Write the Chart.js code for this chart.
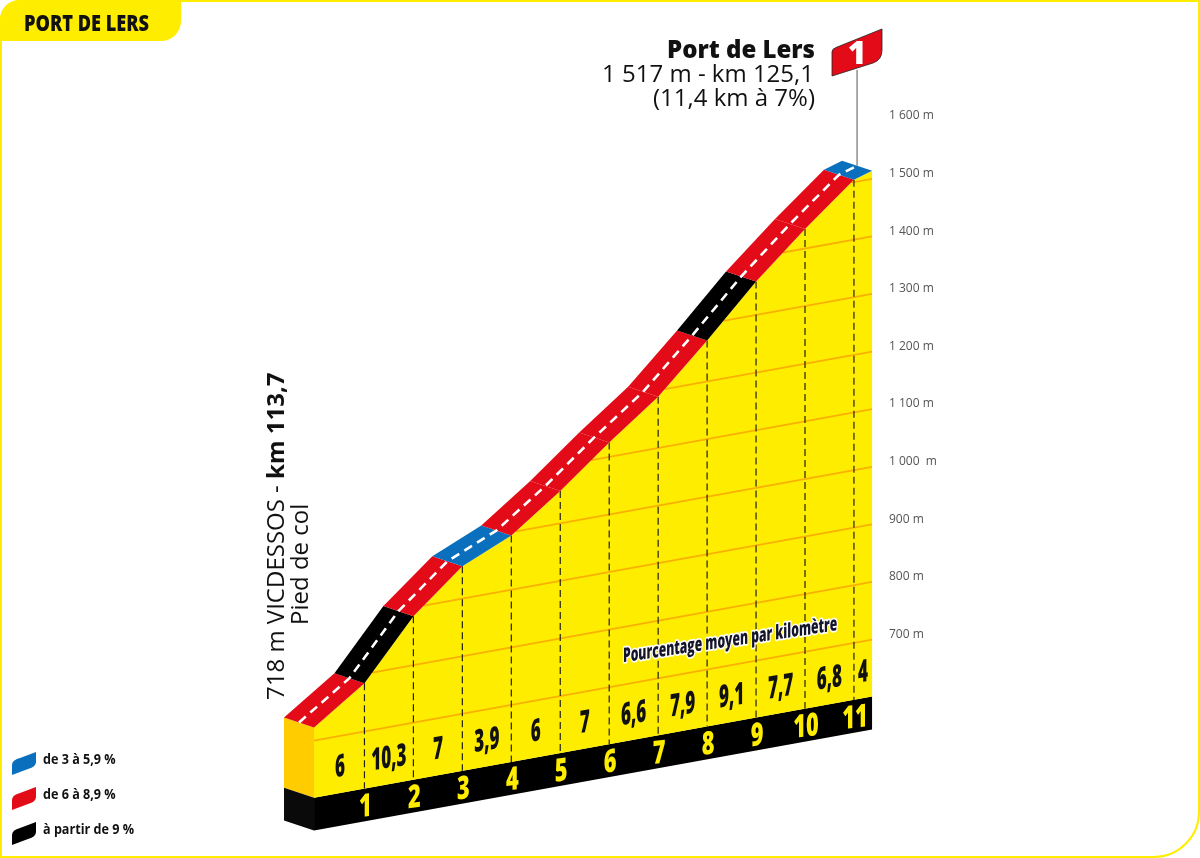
<!DOCTYPE html>
<html lang="fr"><head><meta charset="utf-8">
<script src="https://cdn.jsdelivr.net/npm/chart.js@4"></script>
<style>
html,body{margin:0;padding:0;background:#fff;overflow:hidden}
#wrap{position:relative;width:1200px;height:858px;overflow:hidden;font-family:"Open Sans",sans-serif;color:#111}
canvas{position:absolute;left:0;top:0}
#frame{position:absolute;left:0;top:0;width:1200px;height:858px;box-sizing:border-box;border:2.5px solid #FFED00;border-radius:20px 0 46px 0;pointer-events:none}
#tab{position:absolute;left:0;top:0;width:181px;height:41px;background:#FFED00;border-radius:20px 0 20px 0}
.t{position:absolute;white-space:nowrap}
#title{left:24px;top:7px;font:800 23px/30px "Open Sans";transform:scaleX(.79);transform-origin:0 50%;color:#111}
.r{right:385px;text-align:right;font-size:24px;line-height:26px}
.v{transform:rotate(-90deg);transform-origin:0 0;font-size:24px;line-height:28px}
.lg{left:43px;font:700 14px/18px "Open Sans";transform:scaleX(.9);transform-origin:0 50%;color:#111}
svg{position:absolute;left:0;top:0}
</style></head><body>
<div id="wrap">
<canvas id="c" width="1200" height="858"></canvas>
<div id="frame"></div>
<div id="tab"></div>
<div class="t" id="title">PORT DE LERS</div>
<div class="t r" style="top:36px;font-weight:800;font-size:24px">Port de Lers</div>
<div class="t r" style="top:60px;right:386px">1 517 m - km 125,1</div>
<div class="t r" style="top:84px">(11,4 km à 7%)</div>
<div class="t v" style="left:261px;top:700px">718 m VICDESSOS - <b>km 113,7</b></div>
<div class="t v" style="left:285px;top:625px">Pied de col</div>
<svg width="1200" height="858">
<path d="M12 775V765Q12 760 20 758L36 752V762Q36 767 28 769Z" fill="#0A70BE"/>
<path d="M12 810V800Q12 795 20 793L36 787V797Q36 802 28 804Z" fill="#E30B17"/>
<path d="M12 845V835Q12 830 20 828L36 822V832Q36 837 28 839Z" fill="#000"/>
<path d="M832 76V52Q832 49 836 47.5L882 29V50Q882 60 873 63Z" fill="#E30B17" stroke="#222" stroke-width=".8"/>
<text x="857" y="64" font-family="Open Sans" font-weight="800" font-size="32" fill="#fff" text-anchor="middle">1</text>
</svg>
<div class="t lg" style="top:750px">de 3 à 5,9 %</div>
<div class="t lg" style="top:785px">de 6 à 8,9 %</div>
<div class="t lg" style="top:820px">à partir de 9 %</div>
</div>
<script>
// ---- data ----
const kmMarks   = [-0.03,1,2,3,4,5,6,7,8,9,10,11,11.37];
const elevation = [723,784,885,956,994,1056,1125,1189,1271,1358,1434,1504,1514];
const gradients = [6,10.3,7,3.9,6,7,6.6,7.9,9.1,7.7,6.8,4];
const kmLabels  = ['1','2','3','4','5','6','7','8','9','10','11'];
const tickValues = [700,800,900,1000,1100,1200,1300,1400,1500,1600];
const tickLabels = ['700 m','800 m','900 m','1 000  m','1 100 m','1 200 m','1 300 m','1 400 m','1 500 m','1 600 m'];
const baseTop = 601, baseBottom = 544, poleTop = 1680;
const noteText = 'Pourcentage moyen par kilomètre';

// ---- oblique projection of the relief ----
const START = kmMarks[0], END = kmMarks[kmMarks.length-1];
const SKEW = 15.4, LIFT = 9, OFF_X = -0.613, OFF_Y = 17.4;
const P = (k,e,depth=0)=>({x:k+OFF_X*depth, y:e-LIFT-SKEW*(END-k)+OFF_Y*depth});
const col = g => g<6 ? '#0A70BE' : g<9 ? '#E30B17' : '#000000';
const YEL='#FFED00', SIDE='#FFCC00', GRID='#F9B000';
const shape=(pts,color)=>({data:pts,fill:'shape',backgroundColor:color,borderWidth:0,pointRadius:0,tension:0});
const stroke=(pts,color,w,dash)=>({data:pts,fill:false,borderColor:color,borderWidth:w,borderDash:dash||[],pointRadius:0,tension:0});

const layers=[];
// side faces and base
layers.push(shape([P(START,elevation[0]),P(START,elevation[0],1),P(START,baseTop,1),P(START,baseTop)],SIDE));
layers.push(shape([P(START,baseTop),P(START,baseTop,1),P(START,baseBottom,1),P(START,baseBottom)],'#0a0a0a'));
layers.push(shape([P(START,baseTop),P(END,baseTop),P(END,baseBottom),P(START,baseBottom)],'#000'));
// yellow face
layers.push(shape([...kmMarks.map((k,i)=>P(k,elevation[i])),P(END,baseTop),P(START,baseTop)],YEL));
// grid lines, from the relief to the right edge
tickValues.slice(0,-1).forEach(v=>{
  let start=START;
  for(let i=0;i<kmMarks.length-1;i++){
    if(elevation[i]<=v && elevation[i+1]>v){
      start=kmMarks[i]+(v-elevation[i])/(elevation[i+1]-elevation[i])*(kmMarks[i+1]-kmMarks[i]);
    }
  }
  layers.push(stroke([P(start,v),P(END,v)],GRID,1.8));
});
// km verticals
kmMarks.slice(1,-1).forEach((k,idx)=>{
  layers.push(stroke([P(k,elevation[idx+1]),P(k,baseTop)],'#222208',1.2,[7,4]));
});
// road ribbon
gradients.forEach((g,i)=>{
  const a=kmMarks[i],b=kmMarks[i+1],ea=elevation[i],eb=elevation[i+1];
  layers.push(shape([P(a,ea),P(b,eb),P(b,eb,1),P(a,ea,1)],col(g)));
});
// centre dashes
layers.push(stroke(kmMarks.map((k,i)=>P(k,elevation[i],.5)),'#fff',2.6,[9,6]));
// summit pole
const poleFoot=P(END,elevation[elevation.length-1],.5);
layers.push(stroke([poleFoot,{x:poleFoot.x,y:poleTop}],'#555',1));

const PXKM=48.95, PXM=.576;
const xMin=-315.5/PXKM, xMax=xMin+880/PXKM;
const yMax=1600+116/PXM, yMin=1600-742/PXM;

const labelsPlugin={id:'labels',afterDatasetsDraw(chart){
  const {ctx,scales:{x,y}}=chart;
  const put=(txt,k,v,size,color,sx,s)=>{
    ctx.save();
    ctx.transform(sx,-s*sx,0,1,x.getPixelForValue(k),y.getPixelForValue(v));
    ctx.font=`800 ${size}px "Open Sans"`;ctx.textAlign='center';ctx.textBaseline='middle';
    ctx.fillStyle=color;ctx.fillText(txt,0,0);ctx.restore();
  };
  kmLabels.forEach((t,i)=>{
    const p=P(kmMarks[i+1],(baseTop+baseBottom)/2);
    put(t,p.x+.02,p.y-4,32,YEL,.68,.12);
  });
  gradients.forEach((g,i)=>{
    const p=P((Math.max(kmMarks[i],0)+kmMarks[i+1])/2,baseTop+44);
    put(String(g).replace('.',','),p.x,p.y,31,'#111',.55,.16);
  });
  // note
  const n=P(8.47,baseTop+142);
  ctx.save();
  ctx.transform(.605,-.15*.605,0,1,x.getPixelForValue(n.x),y.getPixelForValue(n.y));
  ctx.font='800 20px "Open Sans"';ctx.textAlign='center';ctx.textBaseline='middle';
  ctx.lineJoin='round';ctx.lineWidth=3.5;ctx.strokeStyle='#fff';ctx.strokeText(noteText,0,0);
  ctx.fillStyle='#14142b';ctx.fillText(noteText,0,0);
  ctx.restore();
}};

new Chart(document.getElementById('c'),{
  type:'line',
  data:{datasets:layers.slice().reverse()},
  options:{
    responsive:false,animation:false,devicePixelRatio:1,
    layout:{padding:0},
    plugins:{legend:{display:false},tooltip:{enabled:false},filler:{propagate:false}},
    elements:{line:{capBezierPoints:false,borderCapStyle:'butt'}},
    scales:{
      x:{type:'linear',display:false,min:xMin,max:xMax},
      y:{type:'linear',position:'right',min:yMin,max:yMax,
        grid:{display:false,drawTicks:false},border:{display:false},
        afterFit(s){s.width=320;s.paddingTop=0;s.paddingBottom=0;},
        afterBuildTicks(s){s.ticks=tickValues.map(v=>({value:v}));},
        ticks:{padding:9,autoSkip:false,maxRotation:0,color:'#555',font:{family:'"Open Sans"',size:12},
          callback:v=>tickLabels[tickValues.indexOf(v)]}
      }
    }
  },
  plugins:[labelsPlugin]
});
</script>
</body></html>
